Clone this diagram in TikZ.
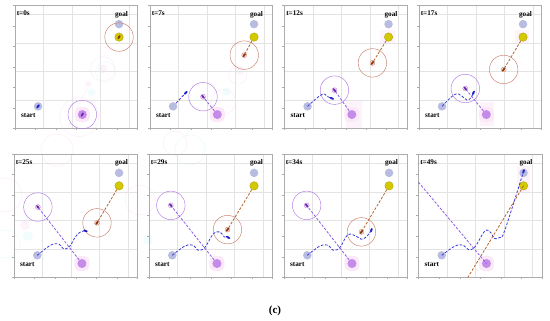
\documentclass[tikz,border=0pt]{standalone}
\usepackage{fontspec}
\setmainfont{Liberation Serif}
\usetikzlibrary{shapes.geometric}
\definecolor{lav}{HTML}{B9BCE1}
\definecolor{yel}{HTML}{D4C800}
\definecolor{yeldk}{HTML}{A89E00}
\definecolor{obs}{HTML}{C48BE8}
\definecolor{pinkhalo}{HTML}{FBE8F9}
\definecolor{redr}{HTML}{C8806A}
\definecolor{magr}{HTML}{B07BE6}
\definecolor{orgd}{HTML}{B8642C}
\definecolor{orgdk}{HTML}{8A3A10}
\definecolor{blued}{HTML}{3B3BD8}
\definecolor{purd}{HTML}{8B5CE8}
\definecolor{robb}{HTML}{1A1AC8}
\definecolor{purdk}{HTML}{6A2AB0}
\definecolor{ghp}{HTML}{F060D0}
\definecolor{ghc}{HTML}{40E0F0}
\tikzset{
 gridl/.style={draw=gray!22, line width=0.3pt},
 framel/.style={draw=gray!65, line width=0.4pt},
 tickl/.style={draw=gray!65, line width=0.3pt},
 lbl/.style={font=\fontsize{7.2}{8}\selectfont\bfseries, inner sep=0pt},
 goalc/.style={circle, fill=lav, minimum size=8.5pt, inner sep=0pt},
 yelc/.style={circle, fill=yel, draw=yeldk, line width=0.3pt, minimum size=8.5pt, inner sep=0pt},
 obsc/.style={circle, fill=obs, minimum size=9pt, inner sep=0pt},
 halo/.style={fill=pinkhalo, minimum size=15pt, rounded corners=5pt, inner sep=0pt},
 ring/.style={circle, draw=#1, line width=0.45pt, minimum size=28.5pt, inner sep=0pt},
 inring/.style={circle, draw=#1, line width=0.35pt, fill=pink!35, minimum size=5pt, inner sep=0pt},
 blob/.style={ellipse, fill=#1, minimum width=4.6pt, minimum height=2.1pt, inner sep=0pt},
 dsh/.style={draw=#1, line width=0.8pt, dash pattern=on 2.6pt off 1.6pt},
 ghost/.style={draw=#1, draw opacity=0.11, line width=0.5pt},
 ghostf/.style={fill=#1, fill opacity=0.07},
}
\newcommand\pbase[2]{%
 \draw[gridl] (0,0) grid (6,6);
 \draw[framel] (0,0) rectangle (6,6);
 \foreach \i in {0,...,6}{\draw[tickl] (\i,0) -- (\i,-0.1); \draw[tickl] (0,\i) -- (-0.1,\i);}
 \node[lbl, anchor=west] (t#1) at (0.08,5.62) {#2};
 \node[lbl] (gl#1) at (5.22,5.55) {goal};
 \node[goalc] (g#1) at (5.1,5.08) {};
 \node[yelc] (y#1) at (5.1,4.45) {};
 \node[goalc] (s#1) at (1.13,1.07) {};
 \node[lbl] (sl#1) at (0.65,0.63) {start};
 \node[halo] (h#1) at (3.3,0.67) {};
 \node[obsc] (o#1) at (3.3,0.67) {};
}
\begin{document}
\begin{tikzpicture}[x=1pt,y=-1pt]
\useasboundingbox (0,0) rectangle (550,321);
\fill[white] (0,0) rectangle (550,321);
% faint ghosts between / around panels
\draw[ghost=ghp] (57,150) circle (16);
\draw[ghost=ghp] (5,195) circle (17);
\fill[ghostf=ghp] (25,225) circle (5);
\fill[ghostf=ghc] (28,236) circle (5);
\draw[ghost=ghc] (6,244) circle (14);
\draw[ghost=ghc] (190,150) circle (15);
\draw[ghost=ghp] (175,143) circle (12);
\draw[ghost=ghp] (140,200) circle (15);
\fill[ghostf=ghc] (148,240) circle (5);
% ---------- panel 1
\begin{scope}[shift={(15,128.3)}, x=20.4pt, y=20.5pt]
 \draw[ghost=ghp] (4.3,2.9) circle (0.6);
 \fill[ghostf=ghp] (4.3,2.9) circle (0.22);
 \draw[ghost=ghc] (4.45,2.75) circle (0.5);
 \fill[ghostf=ghc] (3.75,1.75) circle (0.2);
 \fill[ghostf=ghp] (3.6,2.15) circle (0.15);
 \draw[ghost=ghp] (3.15,0.55) circle (0.95);
 \draw[ghost=ghp] (2.6,0.05) -- (3.0,0.9) -- (3.55,1.95);
 \pbase{a}{t=0s}
 \node[ring=redr] (ra) at (ya) {};
 \node[blob=orgdk, rotate=60] (bya) at (ya) {};
 \node[ring=magr] (ma) at (oa) {};
 \node[blob=purdk, rotate=60] (boa) at (oa) {};
 \node[blob=robb, rotate=50] (rba) at (sa) {};
\end{scope}
% ---------- panel 2
\begin{scope}[shift={(150,128.3)}, x=20.4pt, y=20.5pt]
 \fill[ghostf=ghp] (4.4,2.8) circle (0.22);
 \fill[ghostf=ghc] (3.75,1.8) circle (0.2);
 \draw[ghost=ghp] (3.6,1.3) circle (0.6);
 \draw[ghost=ghp] (4.3,2.6) circle (0.45);
 \pbase{b}{t=7s}
 \node[ring=redr] (rb) at (4.62,3.57) {};
 \node[ring=magr] (mb) at (2.6,1.54) {};
 \node[blob=robb, rotate=45] (rbb) at (1.75,1.73) {};
 \draw[dsh=orgd] (yb) -- (rb.center);
 \draw[dsh=blued] (sb) -- (rbb);
 \draw[dsh=purd] (ob) -- (mb.center);
 \node[inring=redr] (irb) at (rb) {};
 \node[inring=magr] (imb) at (mb) {};
 \node[blob=orgdk, rotate=55] at (rb) {};
 \node[blob=purdk, rotate=-50] at (mb) {};
\end{scope}
% ---------- panel 3
\begin{scope}[shift={(284.5,128.3)}, x=20.4pt, y=20.5pt]
 \fill[ghostf=ghp] (3.0,0.0) rectangle (3.8,1.4);
 \fill[ghostf=ghp] (4.7,4.1) rectangle (5.4,4.8);
 \pbase{c}{t=12s}
 \node[ring=redr] (rc) at (4.31,3.19) {};
 \node[ring=magr] (mc) at (2.45,1.86) {};
 \node[blob=robb, rotate=-25] (rbc) at (2.32,1.46) {};
 \draw[dsh=orgd] (yc) -- (rc.center);
 \draw[dsh=blued] plot[smooth, tension=0.7] coordinates {(sc.center) (1.83,1.65) (2.1,1.55) (rbc.center)};
 \draw[dsh=purd] (oc) -- (mc.center);
 \node[inring=redr] at (rc) {};
 \node[inring=magr] at (mc) {};
 \node[blob=orgdk, rotate=55] at (rc) {};
 \node[blob=purdk, rotate=-50] at (mc) {};
\end{scope}
% ---------- panel 4
\begin{scope}[shift={(419,128.3)}, x=20.4pt, y=20.5pt]
 \fill[ghostf=ghp] (4.7,4.1) rectangle (5.4,4.8);
 \fill[ghostf=ghp] (3.0,0.1) rectangle (3.7,1.3);
 \pbase{d}{t=17s}
 \node[ring=redr] (rd) at (4.15,2.87) {};
 \node[ring=magr] (md) at (2.27,1.94) {};
 \node[blob=robb, rotate=65] (rbd) at (2.67,1.73) {};
 \draw[dsh=orgd] (yd) -- (rd.center);
 \draw[dsh=blued] plot[smooth, tension=0.7] coordinates {(sd.center) (1.75,1.65) (2.1,1.57) (2.35,1.38) (2.55,1.5) (rbd.center)};
 \draw[dsh=purd] (od) -- (md.center);
 \node[inring=redr] at (rd) {};
 \node[inring=magr] at (md) {};
 \node[blob=orgdk, rotate=55] at (rd) {};
 \node[blob=purdk, rotate=-50] at (md) {};
\end{scope}
% ---------- panel 5
\begin{scope}[shift={(14,277.3)}, x=20.6pt, y=20.55pt]
 \pbase{e}{t=25s}
 \node[ring=redr] (re) at (4.03,2.65) {};
 \node[ring=magr] (me) at (1.16,3.42) {};
 \node[blob=robb, rotate=-20] (rbe) at (3.47,2.26) {};
 \draw[dsh=orgd] (ye) -- (re.center);
 \draw[dsh=blued] plot[smooth, tension=0.6] coordinates {(se.center) (1.77,1.56) (2.18,1.62) (2.42,1.38) (2.7,1.5) (2.98,1.97) (3.23,2.21) (rbe.center)};
 \draw[dsh=purd] (oe) -- (me.center);
 \node[inring=redr] at (re) {};
 \node[inring=magr] at (me) {};
 \node[blob=orgdk, rotate=55] at (re) {};
 \node[blob=purdk, rotate=-50] at (me) {};
\end{scope}
% ---------- panel 6
\begin{scope}[shift={(149,277.3)}, x=20.6pt, y=20.55pt]
 \pbase{f}{t=29s}
 \node[ring=redr] (rf) at (3.81,2.32) {};
 \node[ring=magr] (mf) at (1.06,3.5) {};
 \node[blob=robb, rotate=-30] (rbf) at (3.84,1.94) {};
 \draw[dsh=orgd] (yf) -- (rf.center);
 \draw[dsh=blued] plot[smooth, tension=0.6] coordinates {(sf.center) (1.74,1.52) (2.15,1.56) (2.39,1.32) (2.71,1.45) (3.11,2.1) (3.44,2.21) (3.65,1.97) (rbf.center)};
 \draw[dsh=purd] (of) -- (mf.center);
 \node[inring=redr] at (rf) {};
 \node[inring=magr] at (mf) {};
 \node[blob=orgdk, rotate=55] at (rf) {};
 \node[blob=purdk, rotate=-50] at (mf) {};
\end{scope}
% ---------- panel 7
\begin{scope}[shift={(284,277.3)}, x=20.6pt, y=20.55pt]
 \pbase{g}{t=34s}
 \node[ring=redr] (rg) at (3.76,2.21) {};
 \node[ring=magr] (mg) at (1.1,3.5) {};
 \node[blob=robb, rotate=70] (rbg) at (4.24,2.29) {};
 \draw[dsh=orgd] (yg) -- (rg.center);
 \draw[dsh=blued] plot[smooth, tension=0.6] coordinates {(sg.center) (1.74,1.52) (2.15,1.56) (2.39,1.32) (2.71,1.45) (3.11,2.08) (3.55,1.97) (3.76,1.85) (4.0,1.97) (rbg.center)};
 \draw[dsh=purd] (og) -- (mg.center);
 \node[inring=redr] at (rg) {};
 \node[inring=magr] at (mg) {};
 \node[blob=orgdk, rotate=55] at (rg) {};
 \node[blob=purdk, rotate=-50] at (mg) {};
\end{scope}
% ---------- panel 8
\begin{scope}[shift={(418.5,277.3)}, x=20.6pt, y=20.55pt]
 \fill[ghostf=ghp] (4.8,4.1) rectangle (5.4,5.4);
 \pbase{h}{t=49s}
 \node[blob=robb, rotate=70] (rbh) at (5.1,5.15) {};
 \coordinate (ph) at (0,4.63);
 \coordinate (eh) at (2.4,0);
 \draw[dsh=purd] (ph) -- (oh.center);
 \draw[dsh=orgd] (yh.center) -- (eh);
 \draw[dsh=blued] plot[smooth, tension=0.6] coordinates {(sh.center) (1.77,1.52) (2.18,1.56) (2.42,1.35) (2.74,1.48) (3.23,2.26) (3.52,2.16) (3.68,1.89) (3.95,1.94) (4.19,2.29) (rbh.center)};
\end{scope}
\node[font=\fontsize{11}{13}\selectfont\bfseries] (cap) at (275,311) {(c)};
\end{tikzpicture}
\end{document}
